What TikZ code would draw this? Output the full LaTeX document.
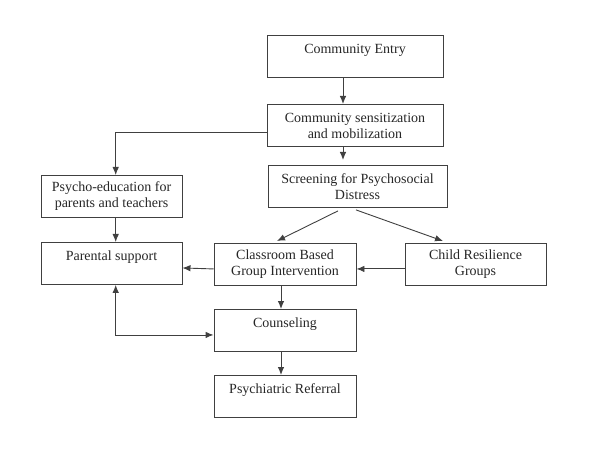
\documentclass[tikz,border=0pt]{standalone}
\usepackage{fontspec}
\setmainfont{Liberation Serif}
\usetikzlibrary{arrows.meta}

\begin{document}
\begin{tikzpicture}[x=1pt, y=-1pt,
        >={Latex[length=8pt,width=6.5pt]},
        line width=0.9pt, draw=black!75,
        box/.style={draw, rectangle, anchor=north, align=center,
                minimum height=42pt, inner sep=2pt,
                font=\fontsize{14}{16}\selectfont, text=black!85}]
        \useasboundingbox (0,0) rectangle (600,473);

        \node [box, minimum width=176pt]   (entry)    at (355,35)  {Community Entry\\\mbox{}};
        \node [box, minimum width=176pt]   (sensitize) at (355,104) {Community sensitization\\and mobilization};
        \node [box, minimum width=179pt]   (screening) at (357.5,165) {Screening for Psychosocial\\Distress};
        \node [box, minimum width=141pt]   (psyched)  at (111.5,175) {Psycho-education for\\parents and teachers};
        \node [box, minimum width=141pt]   (parental) at (111.5,242) {Parental support\\\mbox{}};
        \node [box, minimum width=142pt]   (classroom) at (285,243) {Classroom Based\\Group Intervention};
        \node [box, minimum width=141pt]   (resilience) at (475.5,243) {Child Resilience\\Groups};
        \node [box, minimum width=142pt]   (counsel)  at (285,309) {Counseling\\\mbox{}};
        \node [box, minimum width=142pt]   (referral) at (285,375) {Psychiatric Referral\\\mbox{}};

        \coordinate (midcol) at (343,0);
        \coordinate (leftcol) at (115.7,0);

%% paths
        \draw [->] (entry.south -| midcol) -- (sensitize.north -| midcol);
        \draw [->] (sensitize.south -| midcol) -- ([yshift=5pt]screening.north -| midcol);
        \draw [->] ([yshift=-7pt]sensitize.west) -| (psyched.north -| leftcol);
        \draw [->] (psyched.south -| leftcol) -- (parental.north -| leftcol);
        \draw [->] ([xshift=-19.5pt,yshift=-3pt]screening.south) -- ([xshift=-8pt,yshift=2pt]classroom.north);
        \draw [->] ([xshift=-1.5pt,yshift=-2pt]screening.south) -- ([xshift=-32.5pt,yshift=2pt]resilience.north);
        \draw [->] ([yshift=-4.5pt]classroom.west) -- ([yshift=-4.5pt]parental.east);
        \draw [->] ([yshift=-4.5pt]resilience.west) -- ([yshift=-4.5pt]classroom.east);
        \draw [->] ([xshift=-4pt]classroom.south) -- ([xshift=-4pt]counsel.north);
        \draw [->] ([xshift=-4pt]counsel.south) -- ([xshift=-4pt]referral.north);
        \draw [<->] (parental.south -| leftcol) |- ([yshift=-4.5pt]counsel.west);
\end{tikzpicture}
\end{document}
